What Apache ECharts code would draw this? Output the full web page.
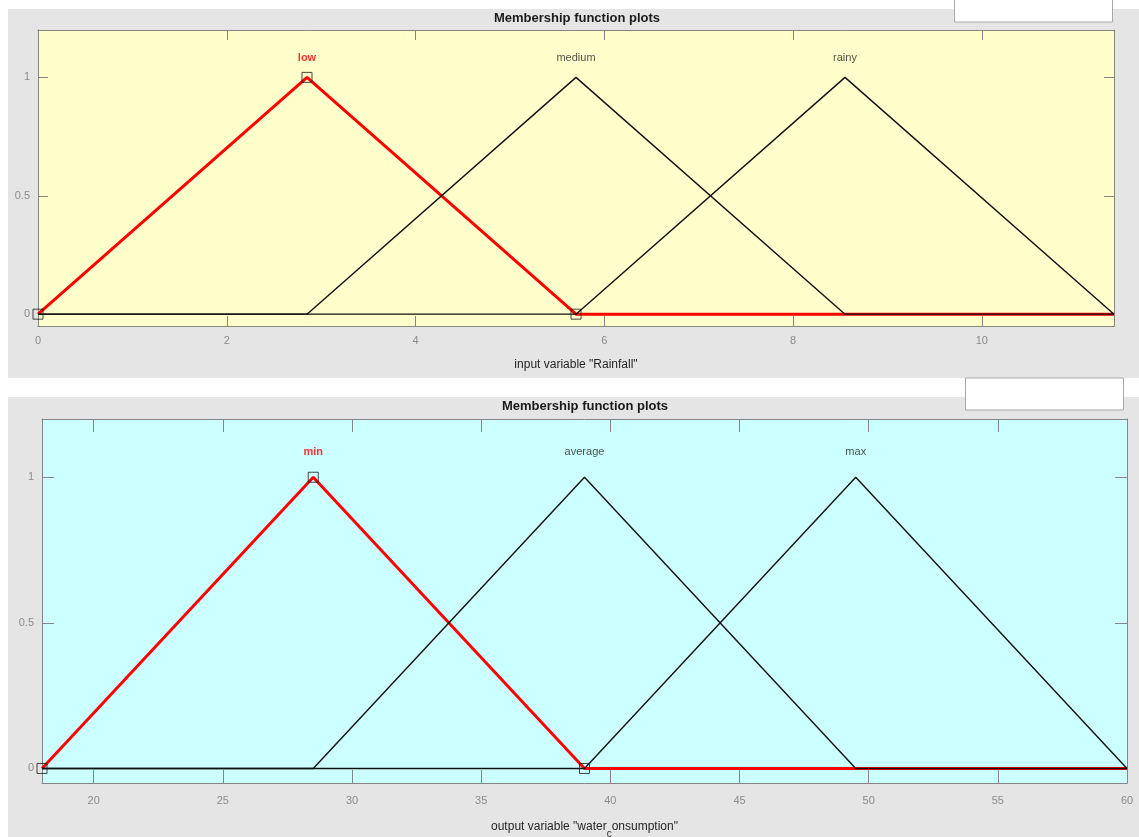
<!DOCTYPE html>
<html>
<head>
<meta charset="utf-8">
<title>Membership function plots</title>
<script src="https://cdn.jsdelivr.net/npm/echarts@6/dist/echarts.min.js"></script>
<style>
  html, body { margin: 0; padding: 0; background: #ffffff; }
  #chart { width: 1139px; height: 837px; }
</style>
</head>
<body>
<div id="chart"></div>
<script>
// Input variable "Rainfall": triangular membership functions [a, b, c]
const rainRange = [0, 11.4];
const rainTicks = [0, 2, 4, 6, 8, 10];
const rainNames = ['low', 'medium', 'rainy'];
const rainParams = [
  [0, 2.85, 5.7],
  [2.85, 5.7, 8.55],
  [5.7, 8.55, 11.4]
];
const rainSelected = 0;

// Output variable "water_consumption": triangular membership functions [a, b, c]
const waterRange = [18, 60];
const waterTicks = [20, 25, 30, 35, 40, 45, 50, 55, 60];
const waterNames = ['min', 'average', 'max'];
const waterParams = [
  [18, 28.5, 39],
  [28.5, 39, 49.5],
  [39, 49.5, 60]
];
const waterSelected = 0;

const degreeTicks = [0, 0.5, 1];
const degreeRange = [-0.05, 1.2];

const FONT = '"Liberation Sans", Arial, Helvetica, sans-serif';
const AXIS_COLOR = '#858585';
const TICK_TEXT = '#8c8c8c';
const TEXT_DARK = '#262626';
const HILITE = '#ff0000';

// Full-range outline of a triangular membership function
function mfPoints(p, range) {
  return [[range[0], 0], [p[0], 0], [p[1], 1], [p[2], 0], [range[1], 0]];
}

function panelAxes(gridIndex, range, ticks, look) {
  const tickStyle = { color: AXIS_COLOR, width: 1 };
  const x = [
    {
      gridIndex, type: 'value', position: 'bottom', min: range[0], max: range[1],
      axisLine: { show: true, onZero: false, lineStyle: tickStyle },
      axisTick: { show: true, inside: true, length: look.xTick, customValues: ticks, lineStyle: tickStyle },
      axisLabel: { customValues: ticks, color: TICK_TEXT, fontSize: 11, fontFamily: FONT, margin: look.labelMargin },
      splitLine: { show: false },
      name: look.name, nameLocation: 'middle', nameGap: look.nameGap,
      nameTextStyle: { color: TEXT_DARK, fontSize: 12, fontFamily: FONT, rich: look.rich || {} }
    },
    {
      gridIndex, type: 'value', position: 'top', min: range[0], max: range[1],
      axisLine: { show: true, onZero: false, lineStyle: tickStyle },
      axisTick: { show: true, inside: true, length: look.xTick, customValues: ticks, lineStyle: tickStyle },
      axisLabel: { show: false },
      splitLine: { show: false }
    }
  ];
  const y = [
    {
      gridIndex, type: 'value', position: 'left', min: degreeRange[0], max: degreeRange[1],
      axisLine: { show: true, onZero: false, lineStyle: tickStyle },
      axisTick: { show: true, inside: true, length: look.yTick, customValues: degreeTicks, lineStyle: tickStyle },
      axisLabel: { customValues: degreeTicks, color: TICK_TEXT, fontSize: 11, fontFamily: FONT, margin: 8 },
      splitLine: { show: false }
    },
    {
      gridIndex, type: 'value', position: 'right', min: degreeRange[0], max: degreeRange[1],
      axisLine: { show: true, onZero: false, lineStyle: tickStyle },
      axisTick: { show: true, inside: true, length: look.yTick, customValues: degreeTicks, lineStyle: tickStyle },
      axisLabel: { show: false },
      splitLine: { show: false }
    }
  ];
  return { x, y };
}

function panelSeries(axisBase, names, params, range, selected, labelGap) {
  const out = [];
  const xi = axisBase, yi = axisBase;
  // highlighted function first, the others drawn over it
  const order = [selected].concat(names.map((_, i) => i).filter(i => i !== selected));
  order.forEach(i => {
    const sel = i === selected;
    out.push({
      type: 'line', name: names[i], xAxisIndex: xi, yAxisIndex: yi,
      data: mfPoints(params[i], range),
      showSymbol: false, symbol: 'none',
      lineStyle: { color: sel ? HILITE : '#111111', width: sel ? 3 : 1.4 },
      z: sel ? 3 : 4, silent: true
    });
  });
  // vertex handles of the highlighted function
  out.push({
    type: 'scatter', xAxisIndex: xi, yAxisIndex: yi,
    data: [[params[selected][0], 0], [params[selected][1], 1], [params[selected][2], 0]],
    symbol: 'rect', symbolSize: 10,
    itemStyle: { color: 'rgba(0,0,0,0)', borderColor: '#1a1a1a', borderWidth: 1 },
    z: 6, silent: true
  });
  // function names above the peaks
  out.push({
    type: 'scatter', xAxisIndex: xi, yAxisIndex: yi,
    data: names.map((n, i) => ({
      name: n, value: [params[i][1], 1],
      label: i === selected ? { color: HILITE, fontWeight: 'bold' } : { color: TEXT_DARK }
    })),
    symbol: 'circle', symbolSize: 1,
    itemStyle: { color: 'rgba(0,0,0,0)' },
    label: { show: true, position: 'top', distance: labelGap, formatter: '{b}', fontSize: 11, fontFamily: FONT },
    z: 7, silent: true
  });
  return out;
}

const rainAxes = panelAxes(0, rainRange, rainTicks, {
  name: 'input variable "Rainfall"', nameGap: 33, labelMargin: 9, xTick: 10, yTick: 10
});
const waterAxes = panelAxes(1, waterRange, waterTicks, {
  name: 'output variable "water{sub|c}onsumption"', nameGap: 32, labelMargin: 12, xTick: 13, yTick: 12,
  rich: { sub: { fontSize: 10, fontFamily: FONT, color: TEXT_DARK, padding: [14, 0, 0, 0] } }
});

const chart = echarts.init(document.getElementById('chart'), null, { renderer: 'canvas' });

chart.setOption({
  animation: false,
  backgroundColor: '#ffffff',
  graphic: [
    { type: 'rect', shape: { x: 8, y: 9, width: 1131, height: 369 }, style: { fill: '#e5e5e5' }, z: -10, silent: true },
    { type: 'rect', shape: { x: 8, y: 397, width: 1131, height: 440 }, style: { fill: '#e5e5e5' }, z: -10, silent: true },
    { type: 'rect', shape: { x: 954.5, y: -2, width: 158, height: 24 }, style: { fill: '#ffffff', stroke: '#a8a8a8', lineWidth: 1 }, z: -9, silent: true },
    { type: 'rect', shape: { x: 965.5, y: 378, width: 158, height: 32 }, style: { fill: '#ffffff', stroke: '#a8a8a8', lineWidth: 1 }, z: -9, silent: true },
    { type: 'text', x: 577, y: 18, style: { text: 'Membership function plots', font: 'bold 13px ' + FONT, fill: '#1a1a1a', align: 'center', verticalAlign: 'middle' }, z: 10, silent: true },
    { type: 'text', x: 585, y: 406, style: { text: 'Membership function plots', font: 'bold 13px ' + FONT, fill: '#1a1a1a', align: 'center', verticalAlign: 'middle' }, z: 10, silent: true }
  ],
  grid: [
    { left: 38, top: 30, width: 1076, height: 296, show: true, backgroundColor: '#ffffcc', borderWidth: 0, outerBoundsMode: 'none', containLabel: false },
    { left: 42, top: 419, width: 1085, height: 364, show: true, backgroundColor: '#ccffff', borderWidth: 0, outerBoundsMode: 'none', containLabel: false }
  ],
  xAxis: rainAxes.x.concat(waterAxes.x),
  yAxis: rainAxes.y.concat(waterAxes.y),
  series: []
    .concat(panelSeries(0, rainNames, rainParams, rainRange, rainSelected, 13))
    .concat(panelSeries(2, waterNames, waterParams, waterRange, waterSelected, 19))
});
</script>
</body>
</html>
